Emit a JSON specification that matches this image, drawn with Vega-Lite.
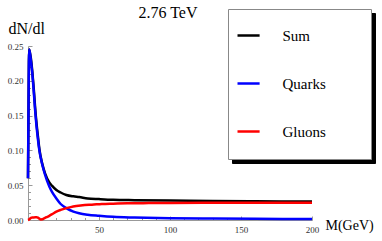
{
  "$schema": "https://vega.github.io/schema/vega-lite/v6.json",
  "autosize": "none",
  "width": 284,
  "height": 174,
  "padding": {"left": 28, "top": 46, "right": 70, "bottom": 21},
  "background": "white",
  "title": {"text": "2.76 TeV", "font": "Liberation Serif, Times New Roman, DejaVu Serif, serif", "fontSize": 16, "fontWeight": "normal", "color": "black", "anchor": "middle", "frame": "group", "baseline": "bottom", "offset": -28, "dx": -2},
  "config": {
    "view": {"stroke": null},
    "axis": {"grid": false, "domainColor": "#999999", "tickColor": "#999999", "labelFont": "Liberation Serif, Times New Roman, DejaVu Serif, serif", "labelFontSize": 9, "labelColor": "#333333", "titleFont": "Liberation Serif, Times New Roman, DejaVu Serif, serif", "titleFontWeight": "normal", "titleColor": "black"}
  },
  "data": {"values": [
    {"M": 0, "v": 0.06, "s": "Sum"}, {"M": 0.4, "v": 0.17, "s": "Sum"}, {"M": 0.8, "v": 0.245, "s": "Sum"}, {"M": 1.5, "v": 0.239, "s": "Sum"}, {"M": 2, "v": 0.233, "s": "Sum"}, {"M": 3, "v": 0.214, "s": "Sum"}, {"M": 4, "v": 0.19, "s": "Sum"}, {"M": 5, "v": 0.162, "s": "Sum"}, {"M": 6, "v": 0.139, "s": "Sum"}, {"M": 7, "v": 0.12, "s": "Sum"}, {"M": 8, "v": 0.102, "s": "Sum"}, {"M": 10, "v": 0.081, "s": "Sum"}, {"M": 12, "v": 0.067, "s": "Sum"}, {"M": 15, "v": 0.054, "s": "Sum"}, {"M": 17, "v": 0.049, "s": "Sum"}, {"M": 20, "v": 0.043, "s": "Sum"}, {"M": 23, "v": 0.0395, "s": "Sum"}, {"M": 27, "v": 0.036, "s": "Sum"}, {"M": 32, "v": 0.034, "s": "Sum"}, {"M": 36, "v": 0.033, "s": "Sum"}, {"M": 42, "v": 0.031, "s": "Sum"}, {"M": 50, "v": 0.03, "s": "Sum"}, {"M": 60, "v": 0.029, "s": "Sum"}, {"M": 75, "v": 0.0285, "s": "Sum"}, {"M": 100, "v": 0.028, "s": "Sum"}, {"M": 130, "v": 0.0272, "s": "Sum"}, {"M": 160, "v": 0.0268, "s": "Sum"}, {"M": 200, "v": 0.0265, "s": "Sum"},
    {"M": 0, "v": 0.06, "s": "Quarks"}, {"M": 0.4, "v": 0.17, "s": "Quarks"}, {"M": 0.8, "v": 0.245, "s": "Quarks"}, {"M": 1.5, "v": 0.238, "s": "Quarks"}, {"M": 2, "v": 0.23, "s": "Quarks"}, {"M": 3, "v": 0.211, "s": "Quarks"}, {"M": 4, "v": 0.186, "s": "Quarks"}, {"M": 5, "v": 0.158, "s": "Quarks"}, {"M": 6, "v": 0.135, "s": "Quarks"}, {"M": 7, "v": 0.116, "s": "Quarks"}, {"M": 8, "v": 0.1, "s": "Quarks"}, {"M": 10, "v": 0.08, "s": "Quarks"}, {"M": 12, "v": 0.065, "s": "Quarks"}, {"M": 15, "v": 0.048, "s": "Quarks"}, {"M": 17, "v": 0.04, "s": "Quarks"}, {"M": 20, "v": 0.031, "s": "Quarks"}, {"M": 23, "v": 0.023, "s": "Quarks"}, {"M": 27, "v": 0.017, "s": "Quarks"}, {"M": 32, "v": 0.012, "s": "Quarks"}, {"M": 36, "v": 0.0096, "s": "Quarks"}, {"M": 42, "v": 0.0075, "s": "Quarks"}, {"M": 50, "v": 0.006, "s": "Quarks"}, {"M": 60, "v": 0.0045, "s": "Quarks"}, {"M": 75, "v": 0.0035, "s": "Quarks"}, {"M": 100, "v": 0.0025, "s": "Quarks"}, {"M": 130, "v": 0.002, "s": "Quarks"}, {"M": 160, "v": 0.0017, "s": "Quarks"}, {"M": 200, "v": 0.0015, "s": "Quarks"},
    {"M": 0, "v": 0, "s": "Gluons"}, {"M": 1, "v": 0.001, "s": "Gluons"}, {"M": 2, "v": 0.003, "s": "Gluons"}, {"M": 3, "v": 0.0035, "s": "Gluons"}, {"M": 4, "v": 0.0035, "s": "Gluons"}, {"M": 5, "v": 0.004, "s": "Gluons"}, {"M": 6, "v": 0.004, "s": "Gluons"}, {"M": 7, "v": 0.0035, "s": "Gluons"}, {"M": 8, "v": 0.002, "s": "Gluons"}, {"M": 9, "v": 0.0008, "s": "Gluons"}, {"M": 10, "v": 0.001, "s": "Gluons"}, {"M": 11, "v": 0.002, "s": "Gluons"}, {"M": 13, "v": 0.004, "s": "Gluons"}, {"M": 15, "v": 0.006, "s": "Gluons"}, {"M": 17.5, "v": 0.009, "s": "Gluons"}, {"M": 20, "v": 0.012, "s": "Gluons"}, {"M": 23, "v": 0.0145, "s": "Gluons"}, {"M": 27, "v": 0.017, "s": "Gluons"}, {"M": 30, "v": 0.0185, "s": "Gluons"}, {"M": 34, "v": 0.02, "s": "Gluons"}, {"M": 40, "v": 0.0215, "s": "Gluons"}, {"M": 45, "v": 0.022, "s": "Gluons"}, {"M": 52, "v": 0.023, "s": "Gluons"}, {"M": 60, "v": 0.0235, "s": "Gluons"}, {"M": 70, "v": 0.024, "s": "Gluons"}, {"M": 85, "v": 0.0243, "s": "Gluons"}, {"M": 100, "v": 0.0245, "s": "Gluons"}, {"M": 130, "v": 0.0247, "s": "Gluons"}, {"M": 160, "v": 0.0248, "s": "Gluons"}, {"M": 200, "v": 0.0248, "s": "Gluons"}
  ]},
  "mark": {"type": "line", "strokeWidth": 2.5, "interpolate": "monotone", "clip": false},
  "encoding": {
    "x": {"field": "M", "type": "quantitative", "scale": {"domain": [0, 200], "nice": false},
      "axis": {"values": [0,10,20,30,40,50,60,70,80,90,100,110,120,130,140,150,160,170,180,190,200],
        "labelExpr": "datum.value % 50 == 0 && datum.value > 0 ? datum.label : ''",
        "tickSize": {"condition": {"test": "datum.value % 50 == 0", "value": -4}, "value": -2.5},
        "labelPadding": 9, "labelFlush": false,
        "title": "M(GeV)", "titleFontSize": 14, "titleAnchor": "start", "titleAlign": "left", "titleBaseline": "alphabetic", "titleX": 297, "titleY": 9}},
    "y": {"field": "v", "type": "quantitative", "scale": {"domain": [0, 0.25], "nice": false},
      "axis": {"values": [0,0.01,0.02,0.03,0.04,0.05,0.06,0.07,0.08,0.09,0.1,0.11,0.12,0.13,0.14,0.15,0.16,0.17,0.18,0.19,0.2,0.21,0.22,0.23,0.24,0.25],
        "labelExpr": "abs(round(datum.value*20) - datum.value*20) < 1e-6 ? format(datum.value, '.2f') : ''",
        "tickSize": {"condition": {"test": "abs(round(datum.value*20) - datum.value*20) < 1e-6", "value": -4}, "value": -2.5},
        "labelPadding": 9, "labelFlush": false,
        "title": "dN/dl", "titleFontSize": 16, "titleAngle": 0, "titleAlign": "left", "titleBaseline": "alphabetic", "titleX": -20, "titleY": -13}},
    "color": {"field": "s", "type": "nominal", "sort": ["Gluons", "Quarks", "Sum"],
      "scale": {"domain": ["Gluons", "Quarks", "Sum"], "range": ["#ff0000", "#0000ff", "black"]},
      "legend": {"orient": "none", "legendX": 204, "legendY": -33, "strokeColor": "black", "fillColor": "black",
        "title": " ", "titleOrient": "bottom", "titleFontSize": 11, "titlePadding": 0, "titleColor": "black",
        "padding": 8, "symbolType": "M-1,0H0.3", "symbolSize": 1156, "symbolStrokeWidth": 2.5,
        "labelFont": "Liberation Serif", "labelFontSize": 15, "labelColor": "black", "rowPadding": 21, "labelOffset": 9.5,
        "labelExpr": "datum.label + '\u2800\u2800\u2800\u00a0\u200b'",
        "encode": {"symbols": {"update": {"stroke": {"value": "black"}}}, "labels": {"update": {"font": {"value": "Liberation Serif"}}}}}},
    "opacity": {"field": "s", "type": "nominal",
      "scale": {"domain": ["Sum", "Quarks", "Gluons"], "range": [1, 1, 1]},
      "legend": {"orient": "none", "legendX": 200, "legendY": -37, "strokeColor": "#888888", "fillColor": "white",
        "title": " ", "titleOrient": "bottom", "titleFontSize": 11, "titlePadding": 0, "titleColor": "white",
        "padding": 8, "symbolType": "M-1,0H0.3", "symbolSize": 1156, "symbolStrokeWidth": 2.5,
        "labelFont": "Liberation Serif", "labelFontSize": 15, "labelColor": "black", "rowPadding": 21, "labelOffset": 9.5,
        "labelExpr": "datum.label + '\u2800\u2800\u2800\u00a0\u200b'",
        "encode": {"symbols": {"update": {"stroke": {"scale": "color", "field": "value"}}}, "labels": {"update": {"font": {"value": "Liberation Serif"}}}}}}
  }
}
